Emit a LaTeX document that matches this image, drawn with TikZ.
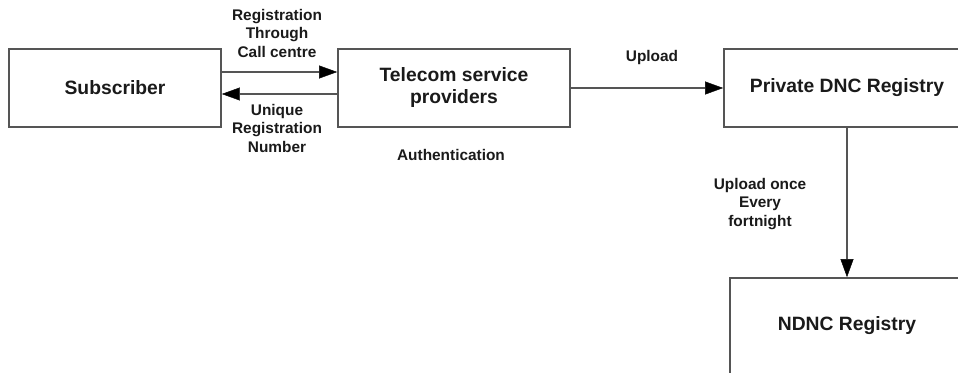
\documentclass[tikz,border=0pt]{standalone}
\usepackage{fontspec}
\setmainfont{Liberation Sans}
\usetikzlibrary{arrows.meta}
\definecolor{linegray}{HTML}{555555}
\definecolor{textdark}{HTML}{1A1A1A}
\tikzset{
  block/.style={draw=linegray, line width=1.8pt, fill=white, inner sep=0pt,
    align=center, text=textdark, font=\fontsize{19.3}{22}\selectfont\bfseries},
  flow/.style={draw=linegray, line width=1.8pt,
    -{Triangle[length=18pt,width=13pt,color=black,fill=black,line width=0.4pt]}},
  note/.style={align=center, text=textdark, inner sep=0pt,
    font=\fontsize{15.4}{18.5}\selectfont\bfseries}
}
\begin{document}
\begin{tikzpicture}[x=1pt, y=-1pt]
  \useasboundingbox (0,0) rectangle (958,372);
  \clip (0,0) rectangle (958,372);
  \fill[white] (0,0) rectangle (958,372);

  % process boxes
  \node[block, minimum width=212pt, minimum height=78pt] (sub) at (115,88) {Subscriber};
  \node[block, minimum width=232pt, minimum height=78pt] (tsp) at (454,88) {Telecom service\\providers};
  \node[block, minimum width=246pt, minimum height=78pt] (pdnc) at (847,88) {Private DNC Registry};
  \node[block, minimum width=234pt, minimum height=96pt] (ndnc) at (847,326) {NDNC Registry};

  % connectors
  \draw[flow] ([yshift=16pt]sub.east) -- ([yshift=16pt]tsp.west);
  \draw[flow] ([yshift=-6pt]tsp.west) -- ([yshift=-6pt]sub.east);
  \draw[flow] (tsp.east) -- (pdnc.west);
  \draw[flow] (pdnc.south) -- (ndnc.north);

  % connector labels
  \node[note] (lreg) at (277,33) {Registration\\Through\\Call centre};
  \node[note] (luniq) at (277,128) {Unique\\Registration\\Number};
  \node[note] (lauth) at (451,155) {Authentication};
  \node[note] (lup) at (652,58) {Upload};
  \node[note] (lfort) at (760,204) {Upload once\\Every\\fortnight};
\end{tikzpicture}
\end{document}
